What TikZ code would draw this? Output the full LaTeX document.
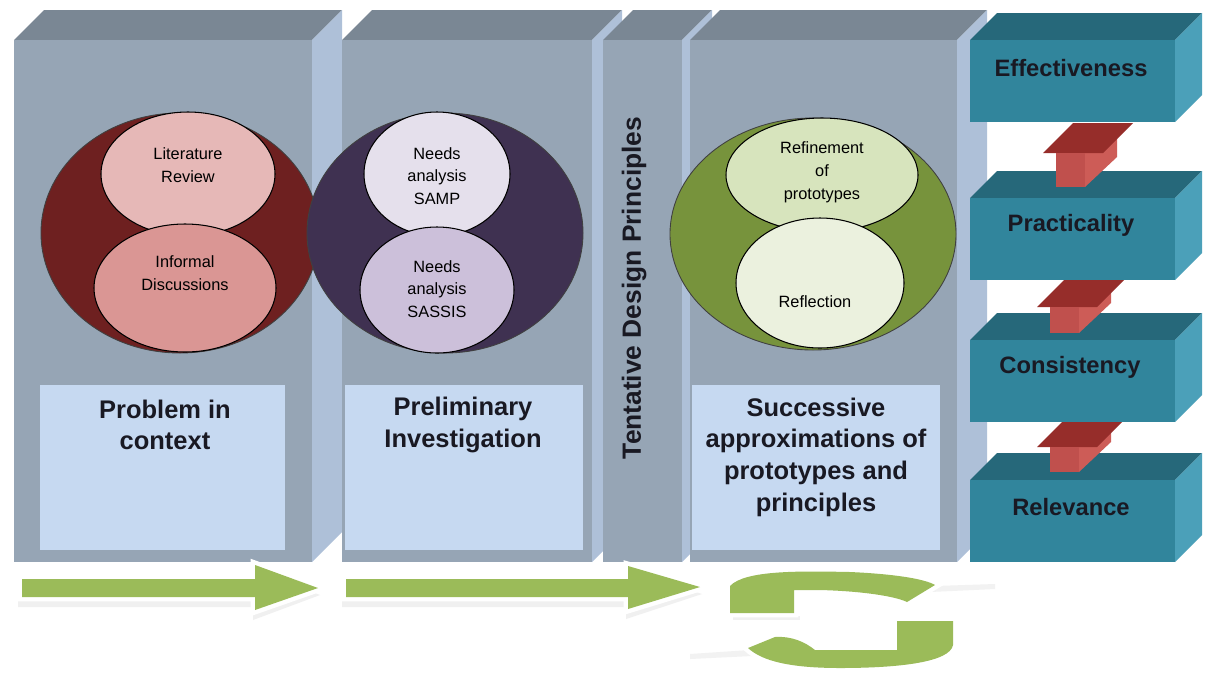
\documentclass[tikz,border=0pt]{standalone}
\usepackage{fontspec}
\setmainfont{Liberation Sans}
\definecolor{colfront}{RGB}{150,165,181}
\definecolor{coltop}{RGB}{122,135,148}
\definecolor{colside}{RGB}{174,192,216}
\definecolor{lightbox}{RGB}{198,217,241}
\definecolor{maroon}{RGB}{110,32,32}
\definecolor{pinkA}{RGB}{230,184,183}
\definecolor{pinkB}{RGB}{218,150,148}
\definecolor{purp}{RGB}{63,49,81}
\definecolor{lavA}{RGB}{229,224,236}
\definecolor{lavB}{RGB}{204,192,218}
\definecolor{olive}{RGB}{119,147,60}
\definecolor{lgA}{RGB}{215,228,189}
\definecolor{lgB}{RGB}{235,241,222}
\definecolor{tealfront}{RGB}{49,133,156}
\definecolor{tealtop}{RGB}{38,104,122}
\definecolor{tealside}{RGB}{75,160,185}
\definecolor{redfront}{RGB}{192,80,77}
\definecolor{reddark}{RGB}{150,45,42}
\definecolor{redside}{RGB}{205,92,87}
\definecolor{grn}{RGB}{155,187,89}
\definecolor{labelink}{RGB}{25,25,35}
\newcommand\colbox[2]{%
  \fill[coltop] (#1,40) -- (#2,40) -- ({#2+30},10) -- ({#1+30},10) -- cycle;
  \fill[colside] (#2,40) -- ({#2+30},10) -- ({#2+30},532) -- (#2,562) -- cycle;
  \fill[colfront] (#1,40) rectangle (#2,562);}
\newcommand\tealbox[1]{%
  \fill[tealtop] (970,#1) -- (1175,#1) -- (1202,{#1-27}) -- (997,{#1-27}) -- cycle;
  \fill[tealside] (1175,#1) -- (1202,{#1-27}) -- (1202,{#1+55}) -- (1175,{#1+82}) -- cycle;
  \fill[tealfront] (970,#1) rectangle (1175,{#1+82});}
\newcommand\redarr[3]{%
  \fill[redside] ({#1+29},#2) -- ({#1+61},{#2-30}) -- ({#1+61},{#3-30}) -- ({#1+29},#3) -- cycle;
  \fill[reddark] ({#1-13},#2) -- ({#1+17},{#2-30}) -- ({#1+77},{#2-30}) -- ({#1+47},#2) -- cycle;
  \fill[redfront] (#1,#2) rectangle ({#1+29},#3);}
\begin{document}
\begin{tikzpicture}[x=0.02cm,y=-0.02cm,
  ctext/.style={align=center,font=\fontsize{9.3}{13}\selectfont,text=black,inner sep=0pt},
  btext/.style={align=center,font=\fontsize{14.5}{18}\selectfont\bfseries,text=labelink,inner sep=0pt},
  ttext/.style={font=\fontsize{13.5}{16}\selectfont\bfseries,text=labelink,inner sep=0pt},
  outer/.style={draw=black!75,line width=0.5pt},
  inner/.style={draw=black,line width=0.6pt},
  garrow/.style={fill=grn,preaction={draw=white,line width=5pt,line join=miter}},
  gshadow/.style={fill=black!6}]
\useasboundingbox (0,0) rectangle (1206,677);
\fill[white] (0,0) rectangle (1206,677);
% columns
\colbox{14}{312}
\colbox{342}{592}
\colbox{603}{682}
\colbox{690}{957}
% light boxes
\fill[lightbox] (40,385) rectangle (285,550);
\fill[lightbox] (345,385) rectangle (583,550);
\fill[lightbox] (692,385) rectangle (940,550);
% ellipses column 1
\fill[maroon,outer] (180,233) ellipse [x radius=139,y radius=120];
\fill[pinkA,inner] (188,174) ellipse [x radius=87,y radius=62];
\fill[pinkB,inner] (185,288) ellipse [x radius=91,y radius=64];
% ellipses column 2
\fill[purp,outer] (445,233) ellipse [x radius=138,y radius=120];
\fill[lavA,inner] (437,174) ellipse [x radius=73,y radius=62];
\fill[lavB,inner] (437,290) ellipse [x radius=77,y radius=63];
% ellipses column 4
\fill[olive,outer] (813,234) ellipse [x radius=143,y radius=116];
\fill[lgA,inner] (822,175) ellipse [x radius=96,y radius=57];
\fill[lgB,inner] (820,283) ellipse [x radius=84,y radius=65];
% circle texts
\node[ctext] (lit) at (188,165) {Literature\\Review};
\node[ctext] (inf) at (185,273) {Informal\\Discussions};
\node[ctext] (samp) at (437,176) {Needs\\analysis\\SAMP};
\node[ctext] (sassis) at (437,289) {Needs\\analysis\\SASSIS};
\node[ctext] (refp) at (822,172) {Refinement\\of\\prototypes};
\node[ctext] (refl) at (815,302) {Reflection};
% box texts
\node[btext] (p1) at (165,425) {Problem in\\context};
\node[btext] (p2) at (463,425) {Preliminary\\Investigation};
\node[btext] (p4) at (816,457) {Successive\\approximations of\\prototypes and\\principles};
\node[font=\fontsize{15}{18}\selectfont\bfseries,text=labelink,inner sep=0pt,rotate=90] (tdp) at (634,288) {Tentative Design Principles};
% teal stack
\tealbox{480}
\redarr{1050}{447}{472}
\tealbox{340}
\redarr{1050}{307}{333}
\tealbox{198}
\redarr{1056}{153}{187}
\tealbox{40}
\node[ttext] (eff) at (1071,68) {Effectiveness};
\node[ttext] (pra) at (1071,225) {Practicality};
\node[ttext] (con) at (1070,367) {Consistency};
\node[ttext] (rel) at (1071,507) {Relevance};
% bottom green arrows
\begin{scope}[shift={(-2,7)}]
\path[gshadow] (20,576) -- (255,576) -- (255,562) -- (322,588) -- (255,613) -- (255,600) -- (20,600) -- cycle;
\path[gshadow] (344,576) -- (628,576) -- (628,563) -- (704,587) -- (628,612) -- (628,600) -- (344,600) -- cycle;
\end{scope}
\path[garrow] (22,579) -- (255,579) -- (255,565) -- (318,588) -- (255,610) -- (255,597) -- (22,597) -- cycle;
\path[garrow] (346,579) -- (628,579) -- (628,566) -- (700,587) -- (628,609) -- (628,597) -- (346,597) -- cycle;
% cycle symbol
\fill[black!5] (935,586) -- (995,584) -- (995,589) -- (930,592) -- cycle;
\fill[black!5] (750,650) -- (690,654) -- (690,659) -- (752,656) -- cycle;
\fill[black!6] (733,620) -- (800,620) -- (800,616) -- (733,616) -- cycle;
\path[garrow] (730,613) -- (730,586) .. controls (745,570) and (800,571) .. (850,572) .. controls (895,574) and (925,579) .. (935,585) -- (907,602) .. controls (895,596) and (860,591) .. (820,590) -- (794,590) -- (794,613) -- cycle;
\path[garrow] (897,621) -- (953,621) -- (953,645) .. controls (950,662) and (900,668) .. (840,668) .. controls (790,668) and (762,661) .. (748,648) -- (775,637) .. controls (792,636) and (805,642) .. (815,650) -- (897,650) -- cycle;
\end{tikzpicture}
\end{document}
